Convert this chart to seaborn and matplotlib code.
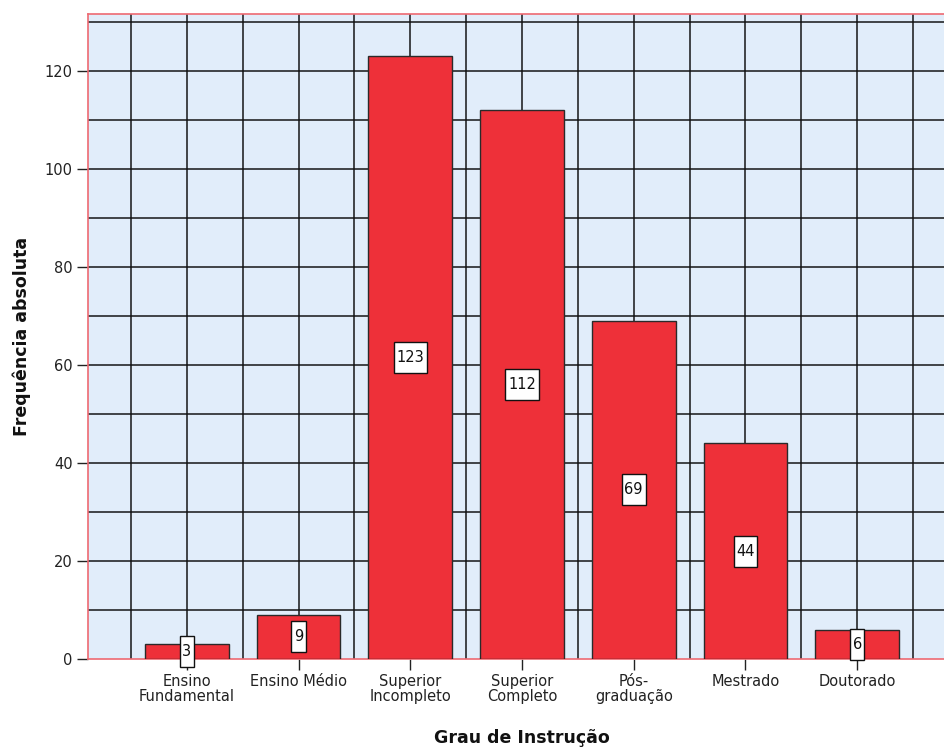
import matplotlib
matplotlib.use("Agg")
import matplotlib.pyplot as plt
from matplotlib.path import Path
import seaborn as sns
import pandas as pd
import numpy as np

# Education level frequencies
categorias = ["Ensino\nFundamental", "Ensino Médio", "Superior\nIncompleto",
              "Superior\nCompleto", "Pós-\ngraduação", "Mestrado", "Doutorado"]
frequencias = [3, 9, 123, 112, 69, 44, 6]
yticks = [0, 20, 40, 60, 80, 100, 120]

sns.set_theme(style="white")
plt.rcParams["font.family"] = ["DejaVu Sans"]

df = pd.DataFrame({"grau": categorias, "freq": frequencias})


def label_box(x0, y0, width, height, mutation_size):
    """Rectangular box with a narrow side padding and a taller vertical one."""
    px = 0.18 * mutation_size
    py = 0.55 * mutation_size
    x0, y0 = x0 - px, y0 - py
    x1, y1 = x0 + width + 2 * px, y0 + height + 2 * py
    return Path([(x0, y0), (x1, y0), (x1, y1), (x0, y1), (x0, y0)], closed=True)


fig = plt.figure(figsize=(9.44, 7.47), dpi=100)
ax = fig.add_axes([88 / 944, 88 / 747, (956 - 88) / 944, (659 - 14) / 747])

ax.set_facecolor("#E1EDFA")

sns.barplot(data=df, x="grau", y="freq", ax=ax, color="#EE3039",
            saturation=1, width=0.75, edgecolor="#2a2a2a", linewidth=1.0,
            zorder=3)

ax.set_xlim(-0.884, 6.884)
ax.set_ylim(0, 131.6)

# grid: every 10 units vertically, every half category horizontally
for y in np.arange(10, 131, 10):
    ax.axhline(y, color="#111111", lw=1.2, alpha=0.9, zorder=1)
for x in np.arange(-0.5, 6.6, 0.5):
    ax.axvline(x, color="#111111", lw=1.2, alpha=0.9, zorder=1)

# value labels at mid-height of each bar
for i, v in enumerate(frequencias):
    ax.text(i, v / 2, str(v), ha="center", va="center", fontsize=10.5,
            color="#111111", zorder=5,
            bbox=dict(boxstyle=label_box, facecolor="white",
                      edgecolor="#111111", linewidth=1.0))

ax.set_yticks(yticks)
ax.set_yticklabels([str(t) for t in yticks], fontsize=10.5, color="#222222")
ax.set_xticks(range(len(categorias)))
ax.set_xticklabels(categorias, fontsize=10.5, color="#222222", linespacing=0.95)
ax.tick_params(axis="both", which="both", length=8, width=1.0, color="#222222",
               direction="out", left=True, bottom=True, pad=3)

for side in ["left", "top", "bottom"]:
    ax.spines[side].set_visible(True)
    ax.spines[side].set_color("#EE6A72")
    ax.spines[side].set_linewidth(1.2)
ax.spines["right"].set_visible(False)

ax.set_ylabel("Frequência absoluta", fontsize=12.5, fontweight="bold",
              color="#111111", labelpad=10)
ax.set_xlabel("Grau de Instrução", fontsize=12.5, fontweight="bold",
              color="#111111", labelpad=18)

fig.savefig("out.png", dpi=100, facecolor="white")
